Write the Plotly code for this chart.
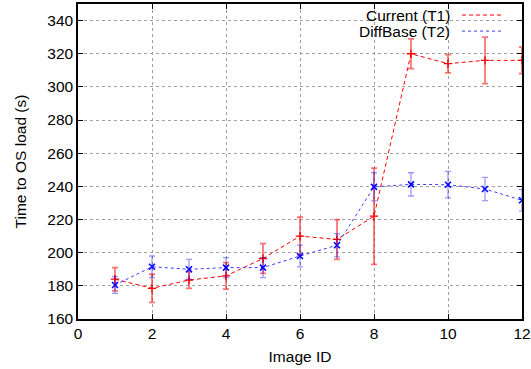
import plotly.graph_objects as go

image_id = [1, 2, 3, 4, 5, 6, 7, 8, 9, 10, 11, 12]
current_t1 = [184, 178.5, 183.5, 186, 196.5, 210, 208, 222, 320, 314, 316, 316]
current_t1_err = [7, 8.5, 5, 8, 9, 11.5, 12, 29, 9, 5.5, 14, 8]
diffbase_t2 = [180.5, 191.5, 190, 191, 191, 198, 204.5, 239.7, 241.2, 241, 238.4, 231.6]
diffbase_t2_err = [5, 6.5, 6, 6, 6, 6.5, 7, 8.5, 7, 8, 7, 6.5]

x_ticks = [0, 2, 4, 6, 8, 10, 12]
y_ticks = [160, 180, 200, 220, 240, 260, 280, 300, 320, 340]

font = "Liberation Sans, Arial, Helvetica, sans-serif"
fs = 15.5

fig = go.Figure()
fig.add_trace(go.Scatter(
    x=image_id, y=current_t1, mode="lines+markers", name="Current (T1)",
    line=dict(color="#ff0000", width=1, dash="4px,3px"),
    marker=dict(symbol="cross-thin", size=6, line=dict(color="#ff0000", width=1.3)),
    error_y=dict(type="data", array=current_t1_err, color="rgba(255,0,0,0.55)",
                 thickness=1.8, width=3),
    showlegend=False,
))
fig.add_trace(go.Scatter(
    x=image_id, y=diffbase_t2, mode="lines+markers", name="DiffBase (T2)",
    line=dict(color="#3a3aff", width=1, dash="dot"),
    marker=dict(symbol="x-thin", size=6, line=dict(color="#0000ff", width=1.5)),
    error_y=dict(type="data", array=diffbase_t2_err, color="rgba(0,0,255,0.4)",
                 thickness=1.3, width=3),
    showlegend=False,
))

# legend box (white background hiding the grid), text on the left as in gnuplot
fig.add_shape(type="rect", xref="paper", yref="paper", x0=0.58, x1=0.985, y0=0.893, y1=0.995,
              fillcolor="white", line=dict(width=0), layer="below")
fig.add_shape(type="line", xref="paper", yref="paper", x0=0.865, x1=0.957, y0=0.965, y1=0.965,
              line=dict(color="#ff0000", width=1, dash="4px,3px"))
fig.add_shape(type="line", xref="paper", yref="paper", x0=0.865, x1=0.957, y0=0.914, y1=0.914,
              line=dict(color="#3a3aff", width=1, dash="dot"))
fig.add_annotation(text="Current (T1)", xref="paper", yref="paper", x=0.842, y=0.965,
                   xanchor="right", yanchor="middle", showarrow=False,
                   font=dict(family=font, size=fs, color="black"))
fig.add_annotation(text="DiffBase (T2)", xref="paper", yref="paper", x=0.842, y=0.914,
                   xanchor="right", yanchor="middle", showarrow=False,
                   font=dict(family=font, size=fs, color="black"))

axis_common = dict(
    showline=True, linecolor="black", linewidth=1.5, mirror="allticks",
    ticks="inside", ticklen=5, tickcolor="black", tickwidth=1,
    showgrid=True, gridcolor="#a0a0a0", griddash="dot", gridwidth=1,
    zeroline=False, automargin=False,
    tickfont=dict(family=font, size=fs, color="black"),
)
fig.update_xaxes(range=[0, 12], tickvals=x_ticks, title=dict(text="Image ID", standoff=10,
                 font=dict(family=font, size=fs, color="black")), **axis_common)
fig.update_yaxes(range=[160, 350], tickvals=y_ticks, title=dict(text="Time to OS load (s)", standoff=17,
                 font=dict(family=font, size=fs, color="black")), **axis_common)

fig.update_layout(
    width=531, height=369,
    margin=dict(l=78, r=9, t=4, b=50),
    paper_bgcolor="white", plot_bgcolor="white",
    font=dict(family=font, size=fs, color="black"),
)
fig.write_html("out.html", config={"displayModeBar": False},
               post_script="document.body.style.margin='0';document.body.style.overflow='hidden';")
